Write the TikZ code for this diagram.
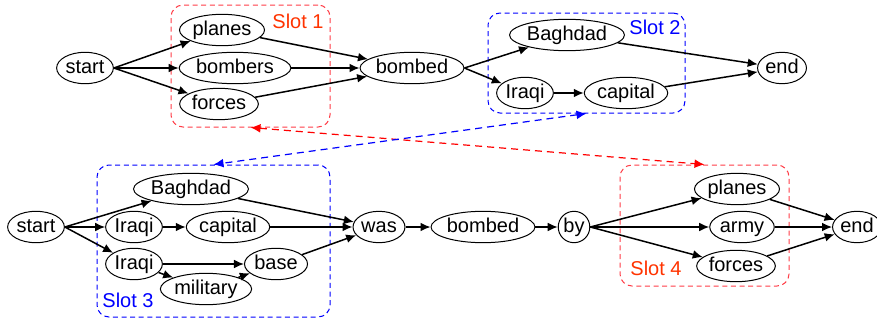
\documentclass[tikz,border=0pt]{standalone}
\usepackage{fontspec}
\setmainfont{Liberation Sans}
\usepackage{tikz}
\usetikzlibrary{shapes,arrows,arrows.meta,positioning}
\definecolor{slotred}{RGB}{255,60,70}
\definecolor{slottext}{RGB}{255,51,0}
\tikzstyle{word} = [ellipse, draw, line width=0.5pt, inner xsep=0.3pt, inner ysep=0.8pt,
 text height=7.5pt, text depth=2pt, font=\fontsize{10}{12}\selectfont]
\tikzstyle{slot} = [rectangle, draw, dashed, rounded corners=6pt, line width=0.5pt,
 dash pattern=on 2.5pt off 1.8pt]
\tikzstyle{line} = [draw, -{Latex[length=5pt,width=4.4pt]}, line width=0.75pt]
\tikzstyle{link} = [draw, {Latex[length=5pt,width=4.4pt]}-{Latex[length=5pt,width=4.4pt]},
 dashed, line width=0.6pt, dash pattern=on 3.5pt off 2.5pt]

\begin{document}
\begin{tikzpicture}[x=0.5pt, y=-0.5pt]
        \useasboundingbox (0,0) rectangle (877,321);

        % slot boxes
        \node[slot, slotred, minimum width=79.5pt, minimum height=61pt] (slot1) at (250.5,66) {};
        \node[slot, blue, minimum width=98.5pt, minimum height=50pt]    (slot2) at (586.5,63) {};
        \node[slot, blue, minimum width=116.5pt, minimum height=76pt]   (slot3) at (213.5,241) {};
        \node[slot, slotred, minimum width=84.5pt, minimum height=60.5pt] (slot4) at (704.5,225.5) {};

        \node[slottext, font=\fontsize{10}{12}\selectfont] (lab1) at (298,21) {Slot 1};
        \node[blue, font=\fontsize{10}{12}\selectfont]     (lab2) at (655,27) {Slot 2};
        \node[blue, font=\fontsize{10}{12}\selectfont]     (lab3) at (128,300) {Slot 3};
        \node[slottext, font=\fontsize{10}{12}\selectfont] (lab4) at (656,268) {Slot 4};

        % upper sentence
        \node[word] (start1)   at (85,68)   {start};
        \node[word] (planes1)  at (222,30)  {planes};
        \node[word] (bombers1) at (235,68)  {bombers};
        \node[word] (forces1)  at (219,104) {forces};
        \node[word] (bombed1)  at (412,68)  {bombed};
        \node[word] (baghdad1) at (567,35)  {Baghdad};
        \node[word] (iraqi1)   at (525,93)  {Iraqi};
        \node[word] (capital1) at (626,93)  {capital};
        \node[word] (end1)     at (782,68)  {end};

        \path[line] (start1.east) -- (planes1);
        \path[line] (start1.east) -- (bombers1);
        \path[line] (start1.east) -- (forces1);
        \path[line] (planes1) -- (bombed1);
        \path[line] (bombers1) -- (bombed1);
        \path[line] (forces1) -- (bombed1);
        \path[line] (bombed1.east) -- (baghdad1);
        \path[line] (bombed1.east) -- (iraqi1);
        \path[line] (iraqi1) -- (capital1);
        \path[line] (baghdad1) -- (end1);
        \path[line] (capital1) -- (end1);

        % lower sentence
        \node[word] (start2)   at (36,227)  {start};
        \node[word] (baghdad2) at (191,189) {Baghdad};
        \node[word] (iraqi2)   at (134,227) {Iraqi};
        \node[word] (capital2) at (228,227) {capital};
        \node[word] (iraqi3)   at (134,264) {Iraqi};
        \node[word] (base2)    at (276,264) {base};
        \node[word] (milit2)   at (206,289) {military};
        \node[word] (was2)     at (379,227) {was};
        \node[word] (bombed2)  at (483,227) {bombed};
        \node[word] (by2)      at (574,227) {by};
        \node[word] (planes2)  at (737,189) {planes};
        \node[word] (army2)    at (742,227) {army};
        \node[word] (forces2)  at (736,266) {forces};
        \node[word] (end2)     at (857,227) {end};

        \path[line] (start2.east) -- (baghdad2);
        \path[line] (start2.east) -- (iraqi2);
        \path[line] (start2.east) -- (iraqi3);
        \path[line] (iraqi2) -- (capital2);
        \path[line] (iraqi3) -- (base2);
        \path[line] (iraqi3) -- (milit2);
        \path[line] (milit2) -- (base2);
        \path[line] (baghdad2) -- (was2);
        \path[line] (capital2) -- (was2);
        \path[line] (base2) -- (was2);
        \path[line] (was2) -- (bombed2);
        \path[line] (bombed2) -- (by2);
        \path[line] (by2.east) -- (planes2);
        \path[line] (by2.east) -- (army2);
        \path[line] (by2.east) -- (forces2);
        \path[line] (planes2) -- (end2);
        \path[line] (army2) -- (end2);
        \path[line] (forces2) -- (end2);

        % slot links
        \path[link, red]  (slot1.south) -- (slot4.north);
        \path[link, blue] (slot2.south) -- (slot3.north);
\end{tikzpicture}
\end{document}
